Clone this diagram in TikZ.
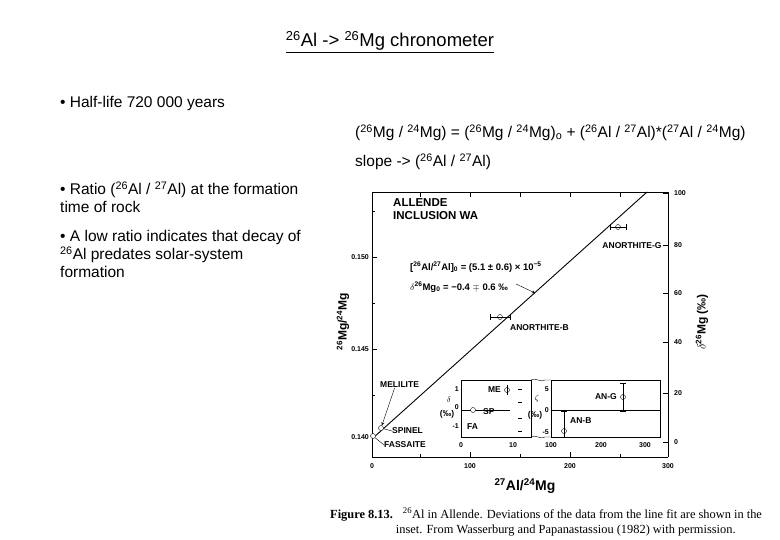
\documentclass[tikz,border=0pt]{standalone}
\usepackage{fontspec}
\setmainfont{Liberation Sans}
\newfontfamily\serifc{Liberation Serif}
\begin{document}
\begin{tikzpicture}[x=1pt,y=-1pt,
  txt/.style={anchor=west,inner sep=0pt,font=\fontsize{15.5}{18}\selectfont},
  fig/.style={inner sep=0pt,font=\fontsize{8.5}{10}\selectfont\bfseries},
  tk/.style={inner sep=0pt,font=\fontsize{7}{8}\selectfont\bfseries},
  pt/.style={draw,circle,inner sep=0pt,minimum size=6pt,fill=white}]
\useasboundingbox (0,0) rectangle (780,540);
% title
\node[inner sep=0pt,font=\fontsize{18.5}{21}\selectfont] (title) at (390,42) {\underline{\textsuperscript{26}Al -> \textsuperscript{26}Mg chronometer}};
\node[txt] (b1) at (60,103) {• Half-life 720 000 years};
\node[txt] (eq) at (355,133) {(\textsuperscript{26}Mg / \textsuperscript{24}Mg) = (\textsuperscript{26}Mg / \textsuperscript{24}Mg)\textsubscript{o} + (\textsuperscript{26}Al / \textsuperscript{27}Al)*(\textsuperscript{27}Al / \textsuperscript{24}Mg)};
\node[txt] (sl) at (355,162) {slope -> (\textsuperscript{26}Al / \textsuperscript{27}Al)};
\node[txt,anchor=north west,align=left] (b2) at (60,182) {• Ratio (\textsuperscript{26}Al / \textsuperscript{27}Al) at the formation\\time of rock};
\node[txt,anchor=north west,align=left] (b3) at (60,230) {• A low ratio indicates that decay of\\\textsuperscript{26}Al predates solar-system\\formation};
% plot frame
\draw[line width=0.9pt] (372,457) -- (372,192) -- (668,192) -- (668,457);
\draw[line width=0.6pt] (372,457) -- (668,457);
% ticks
\foreach \x/\l in {372/0,470/100,570/200,668/300}{
  \draw (\x,457) -- (\x,452);
  \node[tk] at (\x,466) {\l};}
\foreach \x in {420,520,620}{\draw (\x,457)--(\x,454);}
\foreach \x in {420,470,520,570,620}{\draw (\x,192)--(\x,197);}
\foreach \y/\l in {257/0.150,349/0.145}{
  \draw (372,\y)--(377,\y); \node[tk,anchor=east] at (369,\y) {\l};}
\foreach \y in {211,303,395}{\draw (372,\y)--(375,\y);}
\foreach \y/\l in {193/100,245/80,293/60,342/40,393/20,442/0}{
  \draw (668,\y)--(663,\y); \node[tk,anchor=west] at (674,\y) {\l};}
\node[tk,anchor=east] at (369,437) {0.140};
% axis labels
\node[fig,rotate=90,font=\fontsize{12}{14}\selectfont\bfseries] (yl) at (343,322) {\textsuperscript{26}Mg/\textsuperscript{24}Mg};
\node[fig,rotate=90,font=\fontsize{12}{14}\selectfont\bfseries] (yr) at (702,322) {$\delta$\textsuperscript{26}Mg (‰)};
\node[fig,font=\fontsize{14}{16}\selectfont\bfseries] (xl) at (525,486) {\textsuperscript{27}Al/\textsuperscript{24}Mg};
% fit line
\draw[line width=0.9pt] (373,438) -- (647,192);
% labels
\node[fig,anchor=north west,align=left,font=\fontsize{11.5}{13}\selectfont\bfseries] (al) at (393,198) {ALLENDE\\INCLUSION WA};
\node[fig,anchor=west,font=\fontsize{9.5}{11}\selectfont\bfseries] (f1) at (410,267) {[\textsuperscript{26}Al/\textsuperscript{27}Al]\textsubscript{0} = (5.1 ± 0.6) × 10\textsuperscript{−5}};
\node[fig,anchor=west,font=\fontsize{9.5}{11}\selectfont\bfseries] (f2) at (410,287) {$\delta$\textsuperscript{26}Mg\textsubscript{0} = −0.4 $\mp$ 0.6 ‰};
\coordinate (lp) at (535,293);
\draw[->,>=stealth] (f2.east) ++(8,-3) -- (lp);
\node[pt,minimum size=5pt] (ag) at (618,227) {};
\draw (610,227)--(626,227) (610,224)--(610,230) (626,224)--(626,230);
\node[fig,anchor=north] (agl) at (632,242) {ANORTHITE-G};
\node[pt,minimum size=5pt] (ab) at (500,317) {};
\draw (490,317)--(510,317) (490,314)--(490,320) (510,314)--(510,320);
\node[fig,anchor=north west] (abl) at (510,324) {ANORTHITE-B};
\node[pt,minimum size=5pt] (sp) at (381,428) {};
\node[pt,minimum size=5pt] (fa) at (373,436) {};
\node[fig,anchor=west] (mel) at (380,385) {MELILITE};
\node[fig,anchor=west] (spl) at (392,431) {SPINEL};
\node[fig,anchor=west] (fal) at (384,445) {FASSAITE};
\draw[->,>=stealth] (mel.south) ++(-5,0) -- (sp);
\draw (spl.west) -- (sp);
\draw (fal.west) -- (fa);
% inset
\draw (461,380) rectangle (531,437);
\draw (551,380) rectangle (660,437);
\draw (531,380) .. controls (536,377) and (540,383) .. (545,380) -- (551,380);
\draw (531,437) .. controls (536,434) and (540,440) .. (545,437) -- (551,437);
\draw (461,410) -- (510,410);
\draw (551,410) -- (660,410);
\foreach \y in {389,402,418,431}{\draw (518,\y)--(522,\y);}
\node[tk] at (461,445) {0};
\node[tk] at (513,445) {10};
\node[tk] at (551,445) {100};
\node[tk] at (601,445) {200};
\node[tk] at (645,445) {300};
\node[tk,anchor=east] at (459,389) {1};
\node[tk,anchor=east] at (459,407) {0};
\node[tk,anchor=east] at (459,426) {-1};
\node[tk,anchor=east] at (549,389) {5};
\node[tk,anchor=east] at (549,410) {0};
\node[tk,anchor=east] at (549,432) {-5};
\node[fig] at (449,400) {$\delta$};
\node[fig] at (447,414) {(‰)};
\node[fig] at (537,398) {$\zeta$};
\node[fig] at (535,415) {(‰)};
\node[pt,minimum size=5pt] (me) at (507,390) {};
\draw (507,385)--(507,395);
\node[fig,anchor=east] (mel2) at (501,390) {ME};
\node[pt,minimum size=5pt] (spi) at (473,410) {};
\node[fig,anchor=west] (spl2) at (483,412) {SP};
\node[fig,anchor=west] (fal2) at (467,427) {FA};
\node[pt,minimum size=5pt] (ang) at (623,397) {};
\draw (623,383)--(623,411) (620,383)--(626,383) (620,411)--(626,411);
\node[fig,anchor=east] (angl) at (617,397) {AN-G};
\node[pt,minimum size=5pt] (anb) at (564,431) {};
\draw (564,411)--(564,437) (561,411)--(567,411);
\node[fig,anchor=west] (anbl) at (570,421) {AN-B};
% caption
\node[inner sep=0pt,anchor=north west,align=left,font=\serifc\fontsize{12.4}{15}\selectfont] (cap) at (330,508)
{\textbf{Figure 8.13.}\hspace{0.8em}\textsuperscript{26}Al in Allende. Deviations of the data from the line fit are shown in the\\\hspace{5.3em}inset. From Wasserburg and Papanastassiou (1982) with permission.};
\end{tikzpicture}
\end{document}
